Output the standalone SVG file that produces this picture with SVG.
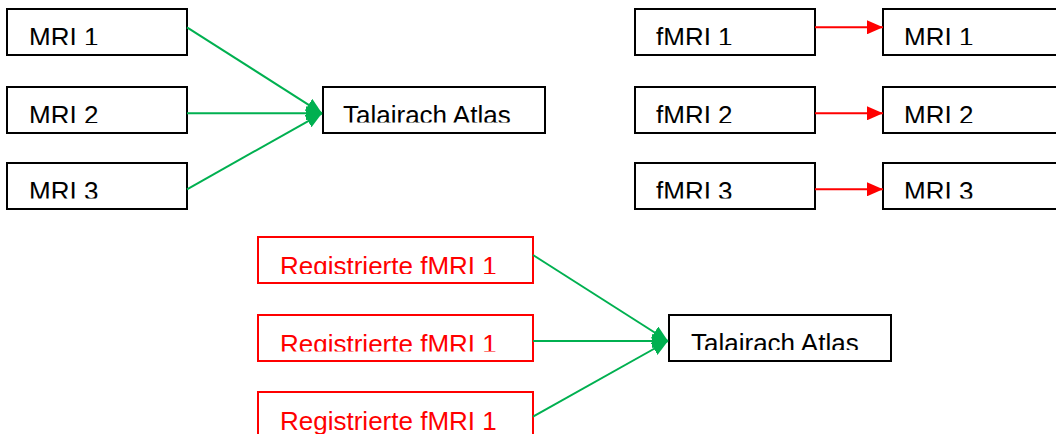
<svg xmlns="http://www.w3.org/2000/svg" width="1056" height="434" viewBox="0 0 1056 434">
<style>
.box{fill:#fff;stroke:#000;stroke-width:2}
.rbox{fill:#fff;stroke:#f00;stroke-width:2}
.t{font-family:"Liberation Sans",Arial,sans-serif;font-size:26px;fill:#000}
.rt{font-family:"Liberation Sans",Arial,sans-serif;font-size:26px;fill:#f00}
.g{stroke:#00b050;stroke-width:2;fill:none;marker-end:url(#ga)}
.r{stroke:#f00;stroke-width:2;fill:none;marker-end:url(#ra)}
</style>
<defs>
<marker id="ga" markerUnits="userSpaceOnUse" viewBox="0 0 16 14" refX="16" refY="7" markerWidth="16" markerHeight="14" orient="auto"><path d="M0,0 L16,7 L0,14 Z" fill="#00b050"/></marker>
<marker id="ra" markerUnits="userSpaceOnUse" viewBox="0 0 16 14" refX="16" refY="7" markerWidth="16" markerHeight="14" orient="auto"><path d="M0,0 L16,7 L0,14 Z" fill="#f00"/></marker>
<clipPath id="c1"><rect x="7" y="9" width="180" height="36"/></clipPath>
<clipPath id="c2"><rect x="7" y="87" width="180" height="36"/></clipPath>
<clipPath id="c3"><rect x="7" y="163" width="180" height="35.5"/></clipPath>
<clipPath id="c4"><rect x="323" y="87" width="222" height="35.5"/></clipPath>
<clipPath id="c5"><rect x="635" y="9" width="180" height="36"/></clipPath>
<clipPath id="c6"><rect x="635" y="87" width="180" height="36"/></clipPath>
<clipPath id="c7"><rect x="635" y="163" width="180" height="35.5"/></clipPath>
<clipPath id="c8"><rect x="883" y="9" width="180" height="36"/></clipPath>
<clipPath id="c9"><rect x="883" y="87" width="180" height="36"/></clipPath>
<clipPath id="c10"><rect x="883" y="163" width="180" height="35.5"/></clipPath>
<clipPath id="c11"><rect x="258" y="237" width="275" height="37"/></clipPath>
<clipPath id="c12"><rect x="258" y="315" width="275" height="36.5"/></clipPath>
<clipPath id="c13"><rect x="258" y="392" width="275" height="42"/></clipPath>
<clipPath id="c14"><rect x="669" y="315" width="222" height="35"/></clipPath>
</defs>
<g id="mri1"><rect class="box" x="7" y="9" width="180" height="46"/><text class="t" x="29" y="45.5" clip-path="url(#c1)">MRI 1</text></g>
<g id="mri2"><rect class="box" x="7" y="87" width="180" height="46"/><text class="t" x="29" y="123.5" clip-path="url(#c2)">MRI 2</text></g>
<g id="mri3"><rect class="box" x="7" y="163" width="180" height="46"/><text class="t" x="29" y="199.5" clip-path="url(#c3)">MRI 3</text></g>
<g id="atlas1"><rect class="box" x="323" y="87" width="222" height="46"/><text class="t" x="343" y="123.5" clip-path="url(#c4)">Talairach Atlas</text></g>
<g id="fmri1"><rect class="box" x="635" y="9" width="180" height="46"/><text class="t" x="656" y="45.5" clip-path="url(#c5)">fMRI 1</text></g>
<g id="fmri2"><rect class="box" x="635" y="87" width="180" height="46"/><text class="t" x="656" y="123.5" clip-path="url(#c6)">fMRI 2</text></g>
<g id="fmri3"><rect class="box" x="635" y="163" width="180" height="46"/><text class="t" x="656" y="199.5" clip-path="url(#c7)">fMRI 3</text></g>
<g id="rmri1"><rect class="box" x="883" y="9" width="200" height="46"/><text class="t" x="904" y="45.5" clip-path="url(#c8)">MRI 1</text></g>
<g id="rmri2"><rect class="box" x="883" y="87" width="200" height="46"/><text class="t" x="904" y="123.5" clip-path="url(#c9)">MRI 2</text></g>
<g id="rmri3"><rect class="box" x="883" y="163" width="200" height="46"/><text class="t" x="904" y="199.5" clip-path="url(#c10)">MRI 3</text></g>
<g id="reg1"><rect class="rbox" x="258" y="237" width="275" height="46"/><text class="rt" x="280" y="274.5" clip-path="url(#c11)">Registrierte fMRI 1</text></g>
<g id="reg2"><rect class="rbox" x="258" y="315" width="275" height="46"/><text class="rt" x="280" y="352.5" clip-path="url(#c12)">Registrierte fMRI 1</text></g>
<g id="reg3"><rect class="rbox" x="258" y="392" width="275" height="60"/><text class="rt" x="280" y="429.5" clip-path="url(#c13)">Registrierte fMRI 1</text></g>
<g id="atlas2"><rect class="box" x="669" y="315" width="222" height="46"/><text class="t" x="691" y="351.5" clip-path="url(#c14)">Talairach Atlas</text></g>
<g id="connectors">
<path class="g" d="M187,27.3 L322,113.3"/>
<path class="g" d="M187,113.3 L322,113.3"/>
<path class="g" d="M187,189.3 L322,113.3"/>
<path class="r" d="M815,27.3 L883,27.3"/>
<path class="r" d="M815,113.3 L883,113.3"/>
<path class="r" d="M815,189.3 L883,189.3"/>
<path class="g" d="M533,255 L668,341"/>
<path class="g" d="M533,341 L668,341"/>
<path class="g" d="M533,416.7 L668,341"/>
</g>
</svg>
